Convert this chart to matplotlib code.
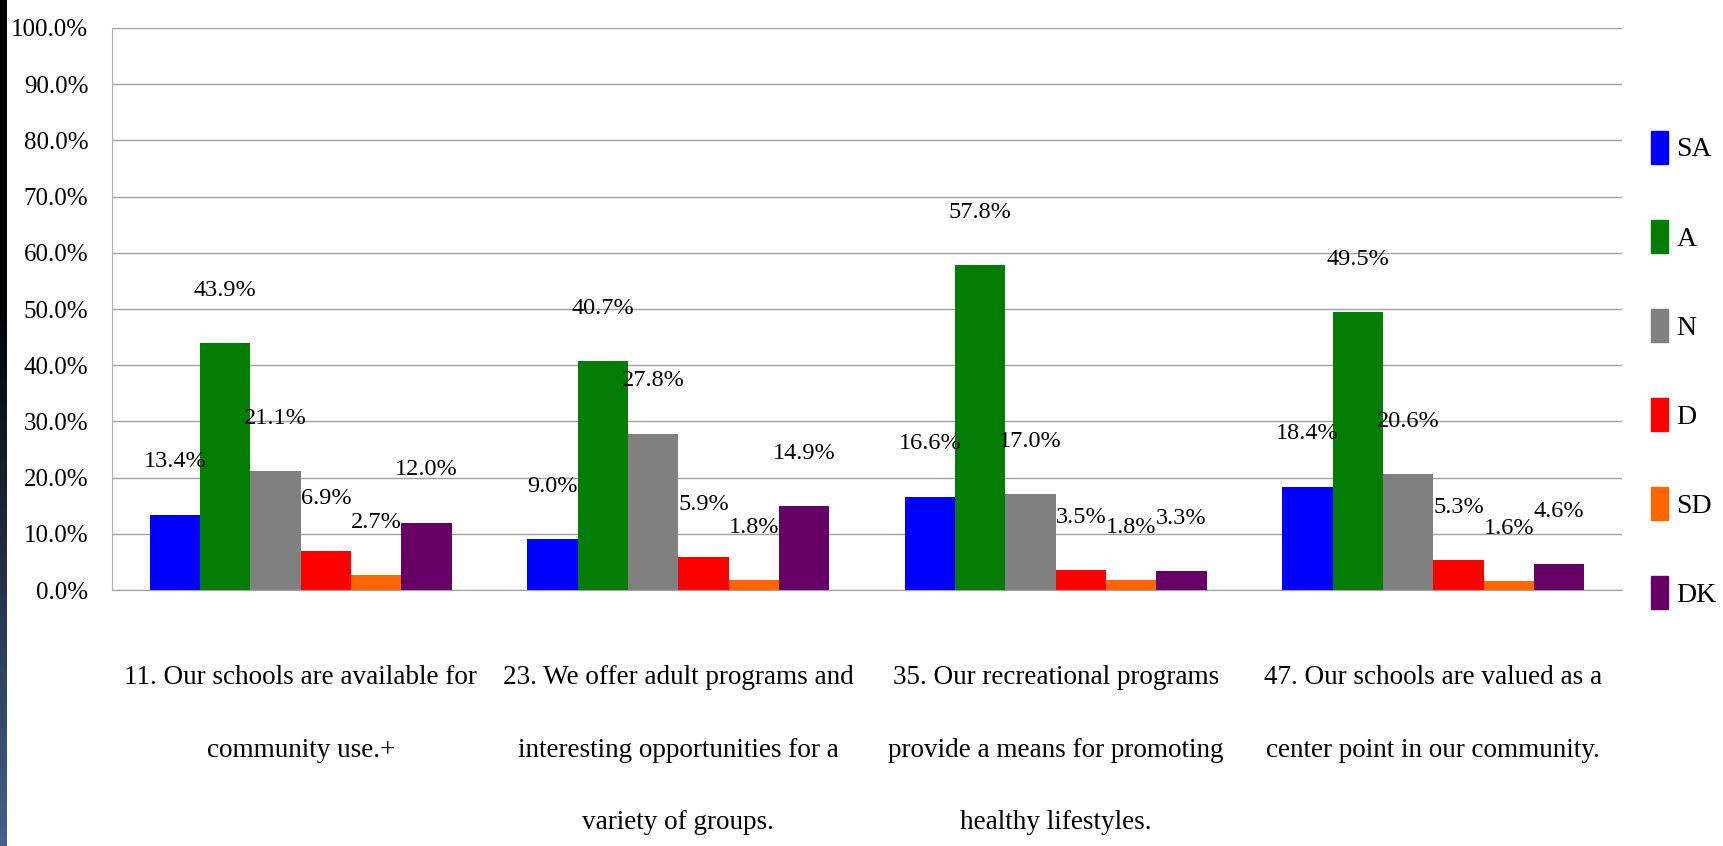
import matplotlib
matplotlib.use("Agg")
from matplotlib import pyplot as plt
from matplotlib.patches import Patch
import numpy as np


QUESTIONS = [
	'11. Our schools are available for\ncommunity use.+',
	'23. We offer adult programs and\ninteresting opportunities for a\nvariety of groups.',
	'35. Our recreational programs\nprovide a means for promoting\nhealthy lifestyles.',
	'47. Our schools are valued as a\ncenter point in our community.',
]
RESPONSES = ['SA', 'A', 'N', 'D', 'SD', 'DK']

sa = [13.4, 9.0, 16.6, 18.4]
agree = [43.9, 40.7, 57.8, 49.5]
neutral = [21.1, 27.8, 17.0, 20.6]
disagree = [6.9, 5.9, 3.5, 5.3]
sd = [2.7, 1.8, 1.8, 1.6]
dk = [12.0, 14.9, 3.3, 4.6]

y_ticks = [0, 10, 20, 30, 40, 50, 60, 70, 80, 90, 100]

COLORS = ['#0000ff', '#037d03', '#808080', '#ff0000', '#ff6600', '#660066']
FONT = 'Liberation Serif'


def draw_strip(fig):
	# dark gradient band on the very left edge
	strip = fig.add_axes([0, 0, 7 / 1723, 1])
	t = np.linspace(0, 1, 256)
	ramp = np.clip((t - 0.35) / 0.65, 0, 1)
	top = np.array([0.0, 0.0, 0.0])
	bottom = np.array([0.27, 0.38, 0.54])
	img = top[None, :] * (1 - ramp[:, None]) + bottom[None, :] * ramp[:, None]
	strip.imshow(img[:, None, :], aspect='auto', extent=(0, 1, 0, 1))
	strip.axis('off')


def main():
	series = [sa, agree, neutral, disagree, sd, dk]

	fig = plt.figure(figsize=(17.23, 8.46), dpi=100)
	ax = fig.add_axes([112 / 1723, 1 - 590 / 846, 1510 / 1723, 562 / 846])

	x = np.arange(len(QUESTIONS))
	width = 0.8 / len(RESPONSES)
	for i, vals in enumerate(series):
		pos = x - 0.4 + width * (i + 0.5)
		bars = ax.bar(pos, vals, width=width, color=COLORS[i], zorder=2)
		for b, v in zip(bars, vals):
			ax.annotate('{:.1f}%'.format(v), (b.get_x() + b.get_width() / 2, v),
						xytext=(0, 38), textcoords='offset points',
						ha='center', va='center', fontsize=17.5, family=FONT, zorder=3)

	ax.set_xlim(-0.5, len(QUESTIONS) - 0.5)
	ax.set_ylim(0, 100)
	ax.set_yticks(y_ticks)
	ax.set_yticklabels(['{:.1f}%'.format(t) for t in y_ticks], fontsize=18, family=FONT)
	ax.set_xticks(x)
	ax.set_xticklabels(QUESTIONS, fontsize=19.5, family=FONT, linespacing=3.5)
	ax.tick_params(axis='y', length=0, pad=17)
	ax.tick_params(axis='x', length=0, pad=54)

	ax.grid(axis='y', color='#a0a0a0', lw=1, zorder=0)
	for s in ['top', 'right']:
		ax.spines[s].set_visible(False)
	ax.spines['left'].set_color('#b0b0b0')
	ax.spines['bottom'].set_color('#a0a0a0')

	handles = [Patch(color=c, label=r) for c, r in zip(COLORS, RESPONSES)]
	fig.legend(handles=handles, loc='center left', bbox_to_anchor=(1651 / 1723, 1 - 370 / 846),
			   frameon=False, borderpad=0, borderaxespad=0, prop={'family': FONT, 'size': 20},
			   handlelength=0.62, handleheight=1.45, handletextpad=0.3, labelspacing=2.02)

	draw_strip(fig)
	plt.savefig('out.png', dpi=100)
	plt.close()


main()
